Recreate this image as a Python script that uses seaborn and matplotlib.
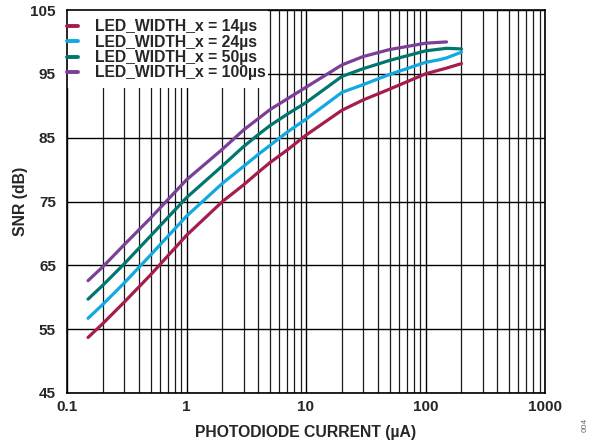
import matplotlib
matplotlib.use("Agg")
import matplotlib.pyplot as plt
from matplotlib.patches import Rectangle
from matplotlib.ticker import FixedLocator, FixedFormatter, LogLocator, NullFormatter
import pandas as pd
import seaborn as sns

# SNR vs photodiode current for four LED pulse widths
series_names = ["LED_WIDTH_x = 14µs", "LED_WIDTH_x = 24µs",
                "LED_WIDTH_x = 50µs", "LED_WIDTH_x = 100µs"]

current_14 = [0.15, 0.2, 0.3, 0.5, 1, 2, 3, 4, 5, 7, 10, 20, 30, 50, 100, 150, 200]
snr_14 = [53.7, 55.9, 59.2, 63.5, 69.7, 75.0, 77.6, 79.6, 81.1, 83.1, 85.4,
          89.3, 90.9, 92.6, 95.0, 95.9, 96.6]

current_24 = [0.15, 0.2, 0.3, 0.5, 1, 2, 3, 4, 5, 7, 10, 20, 30, 50, 100, 130, 150, 200]
snr_24 = [56.7, 58.9, 62.2, 66.6, 72.7, 77.85, 80.5, 82.4, 83.8, 85.9, 87.9,
          92.1, 93.3, 94.9, 96.8, 97.2, 97.5, 98.4]

current_50 = [0.15, 0.2, 0.3, 0.5, 1, 2, 3, 4, 5, 7, 10, 20, 30, 50, 100, 150, 200]
snr_50 = [59.7, 61.9, 65.2, 69.6, 75.6, 80.6, 83.6, 85.5, 86.9, 88.7, 90.5,
          94.6, 95.8, 97.1, 98.6, 99.0, 98.9]

current_100 = [0.15, 0.2, 0.3, 0.5, 1, 2, 3, 4, 5, 7, 10, 20, 30, 50, 100, 150]
snr_100 = [62.6, 64.8, 68.2, 72.4, 78.4, 83.2, 86.2, 88.0, 89.4, 91.1, 92.9,
           96.4, 97.7, 98.8, 99.8, 100.0]

colors = ["#A61C4E", "#12A8E0", "#00766E", "#7B3F98"]

x_ticks = [0.1, 1, 10, 100, 1000]
x_tick_labels = ["0.1", "1", "10", "100", "1000"]
y_ticks = [45, 55, 65, 75, 85, 95, 105]

frames = []
for name, xs, ys in zip(series_names,
                        [current_14, current_24, current_50, current_100],
                        [snr_14, snr_24, snr_50, snr_100]):
    frames.append(pd.DataFrame({"current": xs, "snr": ys, "width": name}))
df = pd.concat(frames, ignore_index=True)

sns.set_style("white")
plt.rcParams["font.family"] = ["Liberation Sans", "DejaVu Sans"]
plt.rcParams["font.weight"] = "bold"

W, H = 592, 445
L, R, T, B = 67, 545, 10, 393
fig = plt.figure(figsize=(W / 100, H / 100), dpi=100)
ax = fig.add_axes([L / W, 1 - B / H, (R - L) / W, (B - T) / H])

sns.lineplot(data=df, x="current", y="snr", hue="width", hue_order=series_names,
             palette=colors, linewidth=2.3, sort=False, estimator=None, ax=ax,
             zorder=5)

ax.set_xscale("log")
ax.set_xlim(0.1, 1000)
ax.set_ylim(45, 105)

ax.xaxis.set_major_locator(FixedLocator(x_ticks))
ax.xaxis.set_major_formatter(FixedFormatter(x_tick_labels))
ax.xaxis.set_minor_locator(LogLocator(base=10, subs=range(2, 10)))
ax.xaxis.set_minor_formatter(NullFormatter())
ax.yaxis.set_major_locator(FixedLocator(y_ticks))

ax.grid(True, which="major", axis="both", color="black", linewidth=1.0)
ax.grid(True, which="minor", axis="x", color="#1a1a1a", linewidth=0.9)
ax.set_axisbelow(True)

ax.tick_params(axis="both", which="both", length=0, labelsize=11)
ax.tick_params(axis="x", pad=5)
ax.tick_params(axis="y", pad=8)
for lab in ax.get_xticklabels() + ax.get_yticklabels():
    lab.set_fontweight("bold")

for sp in ax.spines.values():
    sp.set_visible(True)
    sp.set_color("black")
    sp.set_linewidth(1.2)

ax.set_xlabel("PHOTODIODE CURRENT (µA)", fontsize=11.3, fontweight="bold", va="center")
ax.xaxis.set_label_coords(0.5, -(432 - B) / (B - T))
ax.set_ylabel("SNR (dB)", fontsize=11.3, fontweight="bold", va="center")
ax.yaxis.set_label_coords(-(L - 21) / (R - L), 0.5)

# white panel behind the legend, hiding the grid there
ax.add_patch(Rectangle((0, (B - 88) / (B - T)), (268 - L) / (R - L), (88 - T) / (B - T),
                       transform=ax.transAxes, facecolor="white", edgecolor="none",
                       zorder=1))

leg = ax.legend(loc="upper left", bbox_to_anchor=(0.001, (B - 19.5) / (B - T)),
                frameon=False, borderaxespad=0, borderpad=0,
                handlelength=0.64, handletextpad=1.1, labelspacing=0.02,
                prop={"weight": "bold", "size": 11.3})
for line in leg.get_lines():
    line.set_linewidth(2.8)

fig.text(585 / W, 1 - 425 / H, "004", rotation=90, fontsize=6, color="#666666",
         fontweight="normal", ha="center", va="center")

fig.savefig("out.png", dpi=100)
